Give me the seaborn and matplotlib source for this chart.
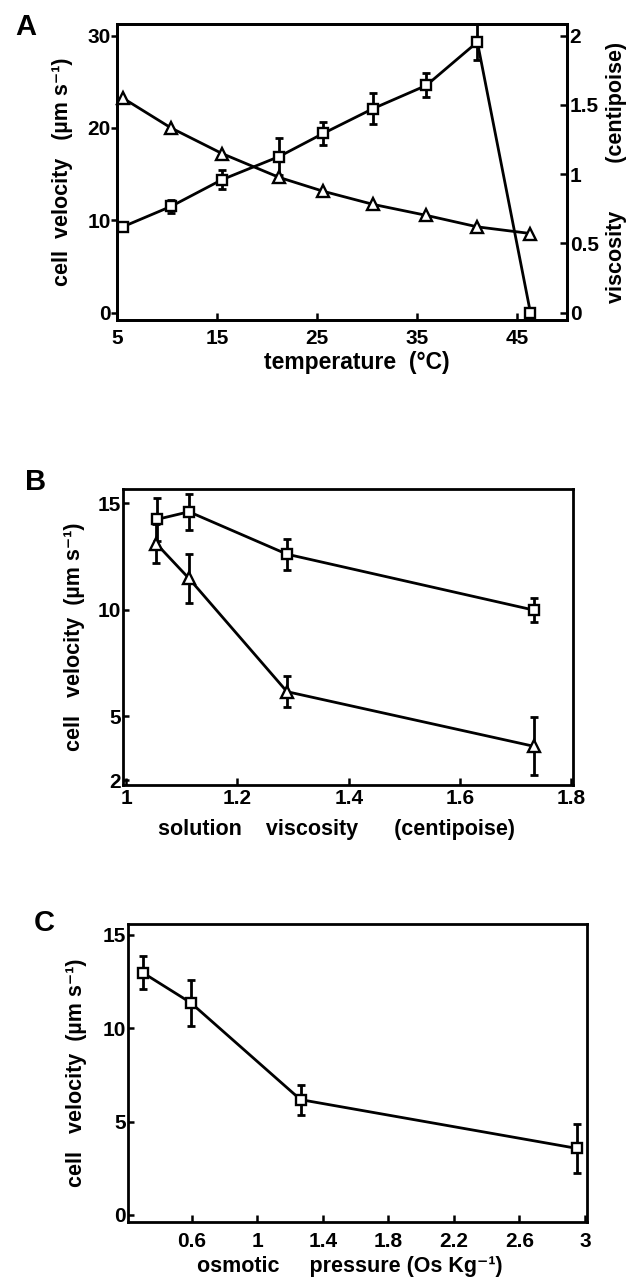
import matplotlib
matplotlib.use("Agg")
import matplotlib.pyplot as plt
import seaborn as sns

# panel A: velocity (squares) and water viscosity (triangles) vs temperature
temp_sq = [5.6, 10.4, 15.5, 21.2, 25.6, 30.6, 35.9, 41.0, 46.3]
vel_temp = [9.3, 11.5, 14.4, 16.9, 19.4, 22.1, 24.6, 29.3, 0.0]
vel_temp_err = [0.5, 0.7, 1.0, 2.0, 1.2, 1.7, 1.3, 2.0, 0.0]
temp_tri = [5.6, 10.4, 15.5, 21.2, 25.6, 30.6, 35.9, 41.0, 46.3]
visc_temp = [1.548, 1.333, 1.148, 0.976, 0.876, 0.781, 0.702, 0.619, 0.571]

# panel B: velocity vs solution viscosity
visc_sq = [1.055, 1.113, 1.289, 1.732]
vel_sq = [14.23, 14.59, 12.6, 9.98]
vel_sq_err = [1.0, 0.85, 0.73, 0.55]
visc_tri = [1.054, 1.113, 1.289, 1.732]
vel_tri = [13.1, 11.46, 6.15, 3.59]
vel_tri_err = [0.9, 1.17, 0.74, 1.35]

# panel C: velocity vs osmotic pressure
osm = [0.301, 0.594, 1.264, 2.949]
vel_osm = [12.98, 11.37, 6.18, 3.57]
vel_osm_err = [0.9, 1.23, 0.8, 1.3]

sns.set_style("ticks")
plt.rcParams["font.family"] = ["Liberation Sans", "DejaVu Sans"]
plt.rcParams["font.weight"] = "bold"
plt.rcParams["axes.linewidth"] = 2.0
for k in ["text.color", "axes.labelcolor", "xtick.color", "ytick.color", "axes.edgecolor"]:
    plt.rcParams[k] = "black"

LW = 2.0
TICK_FS = 15
LAB_FS = 15.5


def draw(ax, x, y, err, marker, ms):
    if err is not None:
        ax.errorbar(x, y, yerr=err, fmt="none", ecolor="black", elinewidth=LW,
                    capsize=3, capthick=LW, zorder=1.5)
    sns.lineplot(x=x, y=y, ax=ax, color="black", lw=LW, marker=marker,
                 markersize=ms, markerfacecolor="white", markeredgecolor="black",
                 markeredgewidth=1.7, clip_on=False, zorder=3)


def style(ax, xpad, ydir, ypad):
    ax.tick_params(axis="x", direction="in", length=5, width=1.8, pad=xpad,
                   labelsize=TICK_FS)
    ax.tick_params(axis="y", direction=ydir, length=4, width=1.8, pad=ypad,
                   labelsize=TICK_FS)
    for s in ax.spines.values():
        s.set_linewidth(LW)


fig = plt.figure(figsize=(6.41, 12.8), dpi=100)

# ---- A
axA = fig.add_axes([0.1825, 0.75, 0.702, 0.23125])
draw(axA, temp_sq, vel_temp, vel_temp_err, "s", 6.5)
axA.set_xlim(5.05, 49.95)
axA.set_ylim(-0.8, 31.25)
axA.set_xticks([5, 15, 25, 35, 45])
axA.set_yticks([0, 10, 20, 30])
style(axA, 6.5, "out", 0.5)
axA.set_xlabel("temperature  (°C)", fontsize=16.5, fontweight="bold", va="center")
axA.xaxis.set_label_coords(0.532, -0.142)
axA.set_ylabel("cell  velocity   (µm s⁻¹)", fontsize=LAB_FS, fontweight="bold",
               va="center")
axA.yaxis.set_label_coords(-0.12, 0.5)

axA2 = axA.twinx()
draw(axA2, temp_tri, visc_temp, None, "^", 8)
axA2.set_ylim(-0.8 / 15, 31.25 / 15)
axA2.set_yticks([0, 0.5, 1, 1.5, 2])
axA2.set_yticklabels(["0", "0.5", "1", "1.5", "2"])
axA2.tick_params(axis="y", direction="in", length=5, width=1.8, pad=2,
                 labelsize=TICK_FS)
axA2.set_ylabel("viscosity        (centipoise)", fontsize=LAB_FS,
                fontweight="bold", va="center", rotation=90)
axA2.yaxis.set_label_coords(1.111, 0.5)
axA2.grid(False)

# ---- B
axB = fig.add_axes([0.1924, 0.3867, 0.7016, 0.2313])
draw(axB, visc_sq, vel_sq, vel_sq_err, "s", 6.5)
draw(axB, visc_tri, vel_tri, vel_tri_err, "^", 8)
axB.set_xlim(0.995, 1.803)
axB.set_ylim(1.77, 15.66)
axB.set_xticks([1, 1.2, 1.4, 1.6, 1.8])
axB.set_xticklabels(["1", "1.2", "1.4", "1.6", "1.8"])
axB.set_yticks([2, 5, 10, 15])
style(axB, 3, "in", 2)
axB.set_xlabel("solution    viscosity      (centipoise)", fontsize=LAB_FS,
               fontweight="bold", va="center")
axB.xaxis.set_label_coords(0.473, -0.149)
axB.set_ylabel("cell   velocity  (µm s⁻¹)", fontsize=LAB_FS, fontweight="bold",
               va="center")
axB.yaxis.set_label_coords(-0.1085, 0.5)

# ---- C
axC = fig.add_axes([0.2002, 0.04555, 0.7156, 0.2326])
draw(axC, osm, vel_osm, vel_osm_err, "s", 6.5)
axC.set_xlim(0.213, 3.013)
axC.set_ylim(-0.36, 15.59)
axC.set_xticks([0.6, 1, 1.4, 1.8, 2.2, 2.6, 3])
axC.set_xticklabels(["0.6", "1", "1.4", "1.8", "2.2", "2.6", "3"])
axC.set_yticks([0, 5, 10, 15])
style(axC, 7.5, "in", 2)
axC.set_xlabel("osmotic     pressure (Os Kg⁻¹)", fontsize=LAB_FS,
               fontweight="bold", va="center")
axC.xaxis.set_label_coords(0.483, -0.152)
axC.set_ylabel("cell   velocity  (µm s⁻¹)", fontsize=LAB_FS, fontweight="bold",
               va="center")
axC.yaxis.set_label_coords(-0.113, 0.5)

for lab, x, y in [("A", 15, 27), ("B", 25, 482), ("C", 34, 923)]:
    fig.text(x / 641, 1 - y / 1280, lab, fontsize=21, fontweight="bold",
             ha="left", va="center")

fig.savefig("out.png", dpi=100)
